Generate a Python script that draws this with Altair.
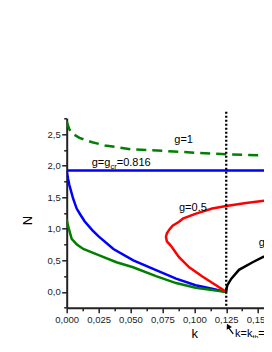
import altair as alt
import pandas as pd

# ---- data ----
k_g1 = [0.0, 0.002, 0.005, 0.01, 0.02, 0.03, 0.05, 0.075, 0.1, 0.125, 0.15, 0.165]
N_g1 = [2.70, 2.58, 2.50, 2.44, 2.37, 2.32, 2.26, 2.235, 2.205, 2.18, 2.165, 2.16]

k_gcr_flat = [0.0, 0.165]
N_gcr_flat = [1.925, 1.925]

k_gcr = [0.0, 0.001, 0.002, 0.005, 0.0078, 0.0105, 0.014, 0.02, 0.025, 0.0366, 0.0522, 0.07, 0.0857, 0.101, 0.114, 0.125]
N_gcr = [1.92, 1.80, 1.70, 1.48, 1.32, 1.23, 1.12, 0.98, 0.88, 0.68, 0.50, 0.345, 0.21, 0.105, 0.05, 0.0]

k_green = [0.0, 0.001, 0.0039, 0.008, 0.013, 0.026, 0.039, 0.052, 0.07, 0.0857, 0.101, 0.114, 0.125]
N_green = [1.15, 1.05, 0.84, 0.75, 0.68, 0.575, 0.47, 0.39, 0.25, 0.14, 0.065, 0.03, 0.0]

k_red = [0.125, 0.117, 0.1066, 0.096, 0.088, 0.0817, 0.0785, 0.0778, 0.0785, 0.0805, 0.083, 0.088, 0.091, 0.1013, 0.114, 0.125, 0.1405, 0.165]
N_red = [0.0, 0.105, 0.24, 0.39, 0.55, 0.73, 0.80, 0.87, 0.93, 0.99, 1.05, 1.11, 1.16, 1.24, 1.32, 1.36, 1.41, 1.47]

k_black = [0.125, 0.1253, 0.126, 0.129, 0.135, 0.1457, 0.1536, 0.165]
N_black = [0.0, 0.06, 0.11, 0.21, 0.35, 0.47, 0.55, 0.66]

k_th = [0.125]
N_th_top = [2.855]
N_th_bottom = [-0.25]

# label anchors: g=1, g=gcr, g=0.5, g=?, k=kth
lab_main_k = [0.0843, 0.0196, 0.088, 0.1505, 0.1319]
lab_main_N = [2.362, 1.99, 1.289, 0.725, -0.72]

arrow_k = [0.1305, 0.1262]
arrow_N = [-0.665, -0.55]
arrow_head_k = [0.12649]
arrow_head_N = [-0.54]

x_ticks = [i * 0.0125 for i in range(13)]
y_ticks = [-0.25 + 0.25 * i for i in range(13)]

FONT = "Liberation Sans"

x_axis = alt.Axis(
    values=x_ticks,
    labelExpr="round(datum.value*80) % 2 == 0 ? replace(format(datum.value, '.3f'), '.', ',') : ''",
    tickSize={"condition": {"test": "round(datum.value*80) % 2 != 0", "value": 3}, "value": 5},
    labelOverlap=False,
    labelFlush=False,
    labelPadding=2,
    titleX=127.6, titleY=30, titleBaseline="alphabetic", titleAlign="center",
    titleFontSize=13, titleFontWeight="normal", titleFont=FONT,
)
y_axis = alt.Axis(
    values=y_ticks,
    labelExpr="round(datum.value*4) % 2 == 0 ? replace(format(datum.value, '.1f'), '.', ',') : ''",
    tickSize={"condition": {"test": "round(datum.value*4) % 2 != 0", "value": 3}, "value": 5},
    labelOverlap=False,
    labelFlush=False,
    labelPadding=1.5,
    titleAngle=270, titleX=-35, titleY=101.7, titleBaseline="alphabetic", titleAlign="center",
    titleFontSize=13, titleFontWeight="normal", titleFont=FONT,
)

X = alt.X("k:Q", scale=alt.Scale(domain=[0, 0.1546], nice=False, zero=False), axis=x_axis, title="k")
Y = alt.Y("N:Q", scale=alt.Scale(domain=[-0.25, 2.75], nice=False, zero=False), axis=y_axis, title="N")


def df(ks, ns):
    return pd.DataFrame({"k": ks, "N": ns, "i": list(range(len(ks)))})


def line(ks, ns, color, dash=None, width=2.5):
    kw = dict(color=color, strokeWidth=width, clip=True)
    if dash:
        kw["strokeDash"] = dash
    return alt.Chart(df(ks, ns)).mark_line(**kw).encode(x=X, y=Y, order=alt.Order("i:Q"))


layers = [
    line(k_g1, N_g1, "#008000", dash=[10, 6]),
    line(k_gcr_flat, N_gcr_flat, "#0000ff"),
    line(k_gcr, N_gcr, "#0000ff"),
    line(k_green, N_green, "#008000"),
    line(k_red, N_red, "#ff0000"),
    line(k_black, N_black, "#000000"),
]

# vertical dotted line at k_th
th_df = pd.DataFrame({"k": k_th, "N": N_th_top, "N2": N_th_bottom})
layers.append(
    alt.Chart(th_df).mark_rule(color="black", strokeWidth=2.3, strokeDash=[2, 2]).encode(
        x=X, y=Y, y2="N2:Q"
    )
)

# arrow
layers.append(
    alt.Chart(df(arrow_k, arrow_N)).mark_line(color="black", strokeWidth=1.2).encode(
        x=X, y=Y, order=alt.Order("i:Q")
    )
)
layers.append(
    alt.Chart(df(arrow_head_k, arrow_head_N)).mark_point(
        shape="triangle-up", filled=True, color="black", size=35, angle=332, opacity=1
    ).encode(x=X, y=Y)
)


def text(idx, txt, size=11, dx=0, dy=0):
    d = pd.DataFrame({"k": [lab_main_k[idx]], "N": [lab_main_N[idx]], "t": [txt]})
    return alt.Chart(d).mark_text(
        align="left", baseline="alphabetic", font=FONT, fontSize=size, color="black", dx=dx, dy=dy
    ).encode(x=X, y=Y, text="t:N")


layers += [
    text(0, "g=1"),
    text(1, "g=g"),
    text(1, "cr", size=7.5, dx=18.7, dy=2.5),
    text(1, "=0.816", dx=25),
    text(2, "g=0.5"),
    text(3, "g="),
    text(4, "k=k"),
    text(4, "th", size=7, dx=17.4, dy=2.5),
    text(4, "=ε", dx=23.3),
]

chart = alt.layer(*layers).properties(
    width=197.3,
    height=189.4,
    autosize=alt.AutoSizeParams(type="none"),
    padding={"left": 58.7, "top": 110.3, "right": 0, "bottom": 30.3},
).configure_view(stroke=None).configure_axis(
    grid=False,
    domainColor="#222222",
    domainWidth=2,
    tickColor="#222222",
    tickWidth=1.5,
    labelFont=FONT,
    labelFontSize=9.5,
    labelColor="#222222",
    titleColor="black",
)

chart.save("out.html", embed_options={"renderer": "svg", "actions": False})
